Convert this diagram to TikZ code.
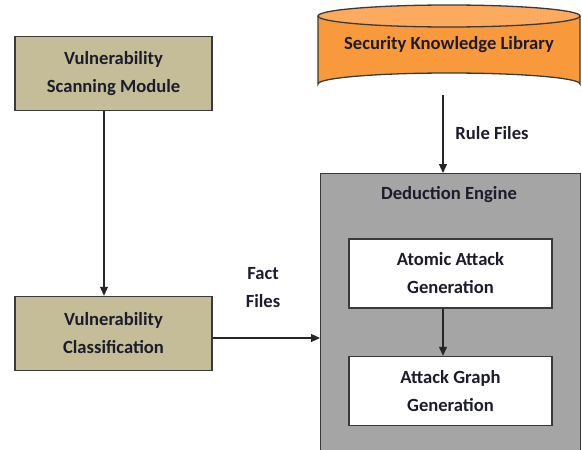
\documentclass[tikz,border=0pt]{standalone}
\usepackage{fontspec}
\setmainfont{Carlito}
\usetikzlibrary{arrows.meta}
\definecolor{tanfill}{HTML}{C4BD97}
\definecolor{orangebody}{HTML}{F89A3C}
\definecolor{orangetop}{HTML}{FBAA5E}
\definecolor{enginegray}{HTML}{A5A5A5}
\definecolor{edge}{HTML}{3A3A3A}
\definecolor{txt}{HTML}{1C1C2C}
\tikzset{
  box/.style={draw=edge, line width=1.4pt, align=center, text=txt,
    font=\bfseries\fontsize{18.6}{28}\selectfont, inner sep=0pt},
  tanbox/.style={box, fill=tanfill, minimum width=197pt, minimum height=74pt},
  whitebox/.style={box, fill=white, minimum width=203pt, minimum height=69pt},
  lbl/.style={align=center, text=txt, font=\bfseries\fontsize{18.6}{28}\selectfont, inner sep=0pt},
  arr/.style={draw=black!85, line width=1.1pt, -{Triangle[length=9pt,width=8pt]}}
}
\begin{document}
\begin{tikzpicture}[x=1pt,y=-1pt]
\useasboundingbox (0,0) rectangle (582,450);
\clip (0,0) rectangle (582,450);
% cylinder
\fill[orangebody] (318,16) -- (318,84) arc[start angle=180,end angle=360,x radius=131,y radius=11] -- (580,16) -- cycle;
\draw[edge, line width=1.3pt] (318,16) -- (318,84) arc[start angle=180,end angle=360,x radius=131,y radius=11] -- (580,16);
\draw[edge, line width=1.3pt, fill=orangetop] (449,16) ellipse[x radius=131,y radius=11];
\node[lbl] (skl) at (449,45) {Security Knowledge Library};
\coordinate (sklb) at (443,95);
% deduction engine
\node[box, fill=enginegray, minimum width=260pt, minimum height=300pt, anchor=north west] (de) at (320,173) {};
\node[lbl] (detitle) at (449,195) {Deduction Engine};
\node[whitebox] (aag) at (450.5,273.5) {Atomic Attack\\Generation};
\node[whitebox] (agg) at (450.5,391) {Attack Graph\\Generation};
% left boxes
\node[tanbox] (vsm) at (113.5,73.5) {Vulnerability\\Scanning Module};
\node[tanbox] (vc) at (113.5,333.5) {Vulnerability\\Classification};
% labels
\node[lbl] (rf) at (492,133) {Rule Files};
\node[lbl] (ff) at (263,287.5) {Fact\\Files};
% arrows
\draw[arr] (sklb) -- (sklb |- de.north);
\draw[arr] (vsm.south -| 104,0) -- (vc.north -| 104,0);
\draw[arr] (vc.east |- 0,338) -- (de.west |- 0,338);
\draw[arr] (aag.south -| 443,0) -- (agg.north -| 443,0);
\end{tikzpicture}
\end{document}
